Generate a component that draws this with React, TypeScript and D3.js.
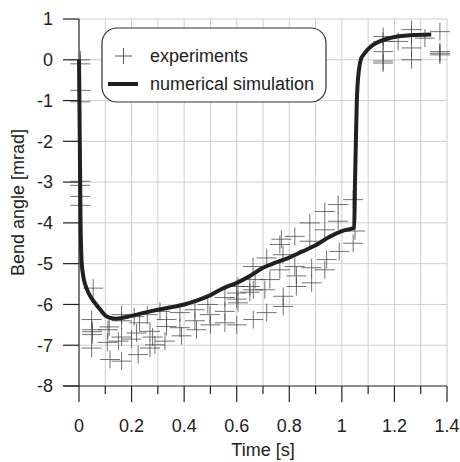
import { useEffect, useRef } from 'react';
import * as d3 from 'd3';

// simulation curve: time [s] and bend angle [mrad]
const simTime = [0, 0.003, 0.006, 0.01, 0.016, 0.023, 0.035, 0.05, 0.065, 0.08, 0.1, 0.12, 0.14, 0.2, 0.25, 0.3, 0.35, 0.4, 0.45, 0.5, 0.55, 0.6, 0.65, 0.7, 0.75, 0.8, 0.85, 0.9, 0.95, 1.0, 1.047, 1.05, 1.054, 1.057, 1.06, 1.065, 1.072, 1.083, 1.094, 1.12, 1.144, 1.17, 1.21, 1.26, 1.34];
const simAngle = [0, -2, -4, -4.95, -5.3, -5.5, -5.7, -5.87, -6.0, -6.12, -6.27, -6.33, -6.35, -6.28, -6.2, -6.13, -6.07, -6.0, -5.9, -5.77, -5.6, -5.47, -5.3, -5.1, -4.97, -4.85, -4.7, -4.55, -4.35, -4.2, -4.12, -3.0, -1.8, -1.0, -0.6, -0.25, 0.0, 0.13, 0.22, 0.37, 0.45, 0.51, 0.57, 0.6, 0.62];

// experiment points
const expTime = [
  0.005, 0.005, 0.005, 0.005, 0.005, 0.005, 0.005, 0.005,
  0.054, 0.048, 0.05, 0.05, 0.05, 0.048,
  0.11, 0.108, 0.115, 0.118,
  0.162, 0.162, 0.162, 0.162, 0.15,
  0.219, 0.225, 0.21, 0.2, 0.23,
  0.27, 0.28, 0.289, 0.27, 0.26,
  0.308, 0.333, 0.333, 0.327,
  0.384, 0.384, 0.39,
  0.441, 0.441, 0.447,
  0.49, 0.498, 0.5,
  0.555, 0.555, 0.555,
  0.605, 0.605, 0.6, 0.6, 0.6,
  0.65, 0.65, 0.663, 0.663, 0.662, 0.67,
  0.707, 0.714, 0.714, 0.726,
  0.764, 0.77, 0.776, 0.764, 0.777, 0.777,
  0.821, 0.821, 0.827, 0.827,
  0.878, 0.878, 0.885, 0.885,
  0.935, 0.935, 0.942, 0.935,
  0.986, 0.986, 0.99,
  1.043, 1.043, 1.05,
  1.157, 1.157, 1.157, 1.157, 1.157,
  1.214, 1.265, 1.265, 1.265, 1.265,
  1.316, 1.373, 1.373, 1.373, 1.373,
];
const expAngle = [
  0.0, -0.1, -0.75, -1.03, -2.98, -3.08, -3.35, -3.57,
  -5.6, -6.37, -6.62, -6.67, -6.74, -7.07,
  -6.62, -6.93, -6.55, -7.35,
  -6.25, -6.4, -6.8, -7.39, -6.9,
  -6.7, -7.23, -6.3, -6.85, -6.45,
  -6.66, -6.8, -6.99, -7.07, -6.25,
  -6.17, -6.37, -6.54, -6.9,
  -6.2, -6.57, -6.77,
  -6.13, -6.4, -6.62,
  -6.0, -6.25, -6.5,
  -5.83, -6.17, -6.45,
  -5.56, -5.96, -6.5, -5.72, -5.87,
  -5.56, -5.7, -5.64, -6.37, -5.07, -5.39,
  -5.64, -4.86, -6.2, -5.39,
  -4.53, -4.4, -4.78, -5.15, -5.8, -6.05,
  -4.33, -5.07, -5.56, -5.3,
  -4.0, -4.45, -5.1, -5.47,
  -3.72, -4.17, -4.9, -5.15,
  -3.55, -3.96, -4.7,
  -3.43, -4.5, -4.2,
  0.57, 0.2, -0.08, 0.45, -0.03,
  0.45, 0.74, 0.29, 0.0, 0.6,
  0.53, 0.69, 0.2, 0.12, 0.16,
];

const xTicks = [0, 0.2, 0.4, 0.6, 0.8, 1, 1.2, 1.4];
const xGrid = d3.range(1, 15).map(i => i / 10);
const yTicks = [1, 0, -1, -2, -3, -4, -5, -6, -7, -8];

const W = 460;
const H = 462;
const FONT = '"Liberation Sans", Arial, sans-serif';

const App = () => {
  const svgRef = useRef<SVGSVGElement>(null);

  useEffect(() => {
    const svg = d3.select(svgRef.current);
    svg.selectAll('*').remove();

    const x = d3.scaleLinear().domain([0, 1.4]).range([79, 447]);
    const y = d3.scaleLinear().domain([-8, 1]).range([386, 19]);

    // grid
    const grid = svg.append('g').attr('stroke', '#cfcfcf').attr('stroke-width', 1);
    grid.selectAll('line.v').data(xGrid).join('line')
      .attr('x1', d => x(d)).attr('x2', d => x(d))
      .attr('y1', y(1)).attr('y2', y(-8));
    grid.selectAll('line.h').data(yTicks.filter(d => d > -8)).join('line')
      .attr('class', 'h')
      .attr('x1', x(0)).attr('x2', x(1.4))
      .attr('y1', d => y(d)).attr('y2', d => y(d));

    // axes
    const ax = svg.append('g').attr('stroke', '#222').attr('stroke-width', 1.2);
    ax.append('line').attr('x1', x(0)).attr('x2', x(0)).attr('y1', y(1)).attr('y2', y(-8) + 16);
    ax.append('line').attr('x1', x(0) - 16).attr('x2', x(1.4)).attr('y1', y(-8)).attr('y2', y(-8));
    ax.selectAll('line.yt').data(yTicks).join('line')
      .attr('class', 'yt')
      .attr('x1', x(0) - 16).attr('x2', x(0))
      .attr('y1', d => y(d)).attr('y2', d => y(d));
    ax.selectAll('line.xt').data(d3.range(1, 15).map(i => i / 10)).join('line')
      .attr('class', 'xt')
      .attr('x1', d => x(d)).attr('x2', d => x(d))
      .attr('y1', y(-8))
      .attr('y2', (d, i) => y(-8) + (i % 2 === 1 ? 16 : 8));

    const labels = svg.append('g').attr('font-family', FONT).attr('font-size', 18).attr('fill', '#222');
    labels.selectAll('text.y').data(yTicks).join('text')
      .attr('class', 'y')
      .attr('x', 53).attr('y', d => y(d)).attr('dy', '0.35em')
      .attr('text-anchor', 'end')
      .text(d => d);
    labels.selectAll('text.x').data(xTicks).join('text')
      .attr('class', 'x')
      .attr('x', d => x(d)).attr('y', 432)
      .attr('text-anchor', 'middle')
      .text(d => d);
    labels.append('text')
      .attr('x', x(0.7)).attr('y', 456)
      .attr('text-anchor', 'middle')
      .text('Time [s]');
    labels.append('text')
      .attr('transform', `translate(24,${y(-3.5)}) rotate(-90)`)
      .attr('text-anchor', 'middle')
      .text('Bend angle [mrad]');

    // experiments
    const pts = expTime.map((t, i) => [t, expAngle[i]]);
    const cross = (g, cx, cy) => {
      g.append('line').attr('x1', cx - 10).attr('x2', cx + 10).attr('y1', cy).attr('y2', cy);
      g.append('line').attr('x1', cx).attr('x2', cx).attr('y1', cy - 9).attr('y2', cy + 9);
    };
    const gExp = svg.append('g').attr('stroke', '#444').attr('stroke-width', 1).attr('stroke-opacity', 0.75);
    pts.forEach(([t, v]) => cross(gExp, x(t), y(v)));

    // simulation
    const line = d3.line<number>()
      .x(d => x(simTime[d]))
      .y(d => y(simAngle[d]))
      .curve(d3.curveMonotoneX);
    svg.append('path')
      .attr('d', line(d3.range(simTime.length)))
      .attr('fill', 'none')
      .attr('stroke', '#231f20')
      .attr('stroke-width', 4)
      .attr('stroke-linejoin', 'round');

    // legend
    const lg = svg.append('g');
    lg.append('rect')
      .attr('x', 102).attr('y', 28).attr('width', 224).attr('height', 74)
      .attr('rx', 15).attr('ry', 15)
      .attr('fill', '#fff').attr('stroke', '#333').attr('stroke-width', 1.2);
    const lgCross = lg.append('g').attr('stroke', '#555').attr('stroke-width', 1);
    lgCross.append('line').attr('x1', 115).attr('x2', 132).attr('y1', 56).attr('y2', 56);
    lgCross.append('line').attr('x1', 123.5).attr('x2', 123.5).attr('y1', 48).attr('y2', 64);
    lg.append('line')
      .attr('x1', 108).attr('x2', 138).attr('y1', 84).attr('y2', 84)
      .attr('stroke', '#231f20').attr('stroke-width', 4);
    lg.append('text').attr('x', 150).attr('y', 56).attr('dy', '0.35em')
      .attr('font-family', FONT).attr('font-size', 18).attr('fill', '#222')
      .text('experiments');
    lg.append('text').attr('x', 150).attr('y', 84).attr('dy', '0.35em')
      .attr('font-family', FONT).attr('font-size', 18).attr('fill', '#222')
      .text('numerical simulation');
  }, []);

  return (
    <svg
      ref={svgRef}
      width={W}
      height={H}
      style={{ position: 'absolute', left: 0, top: 0, background: '#fff' }}
    />
  );
};

export default App;
